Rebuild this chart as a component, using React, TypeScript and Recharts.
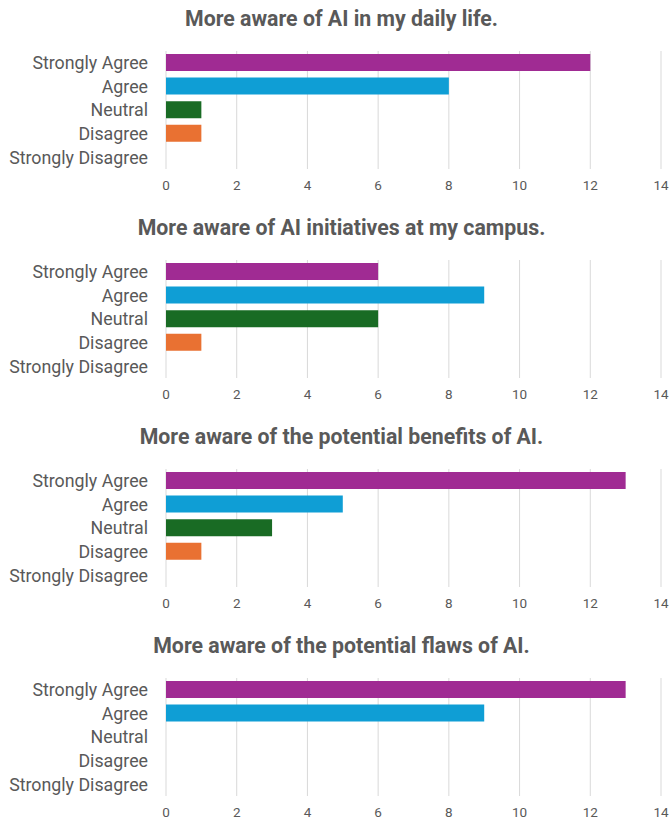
import { BarChart, Bar, XAxis, YAxis, CartesianGrid, Cell } from 'recharts';

const categories = ['Strongly Agree', 'Agree', 'Neutral', 'Disagree', 'Strongly Disagree'];
const colors = ['#A02B93', '#0F9ED5', '#196B24', '#E97132', '#4EA72E'];
const xTicks = [0, 2, 4, 6, 8, 10, 12, 14];

const titles = [
  'More aware of AI in my daily life.',
  'More aware of AI initiatives at my campus.',
  'More aware of the potential benefits of AI.',
  'More aware of the potential flaws of AI.'
];
const dailyLife = [12, 8, 1, 1, 0];
const campus = [6, 9, 6, 1, 0];
const benefits = [13, 5, 3, 1, 0];
const flaws = [13, 9, 0, 0, 0];

const seriesList = [dailyLife, campus, benefits, flaws];

const font = "Roboto, 'Noto Sans', sans-serif";

function Panel({ title, values }: any) {
  const data = categories.map((name, i) => ({ name, value: values[i] }));
  return (
    <div style={{ position: 'relative', width: 669, height: 209 }}>
      <div
        style={{
          position: 'absolute',
          top: 6,
          left: 0,
          width: 669,
          paddingLeft: 14,
          boxSizing: 'border-box',
          textAlign: 'center',
          fontFamily: font,
          fontWeight: 700,
          fontSize: 21.3,
          color: '#595959'
        }}>
        {title}
      </div>
      <BarChart
        width={669}
        height={209}
        data={data}
        layout="vertical"
        margin={{ top: 51, right: 8, left: 0, bottom: 10 }}
        barSize={17}>
        <CartesianGrid horizontal={false} stroke="#d9d9d9" />
        <XAxis
          type="number"
          domain={[0, 14]}
          ticks={xTicks}
          axisLine={false}
          tickLine={false}
          height={30}
          tickMargin={5}
          interval={0}
          tick={{ fill: '#595959', fontSize: 13.5, fontFamily: font }}
        />
        <YAxis
          type="category"
          dataKey="name"
          width={166}
          axisLine={false}
          tickLine={false}
          tickMargin={12}
          interval={0}
          tick={{ fill: '#595959', fontSize: 17.8, fontFamily: font }}
        />
        <Bar dataKey="value" isAnimationActive={false}>
          {data.map((d, i) => (
            <Cell key={d.name} fill={colors[i]} />
          ))}
        </Bar>
      </BarChart>
    </div>
  );
}

export default function App() {
  return (
    <div style={{ position: 'absolute', top: 0, left: 0, width: 669, background: '#fff' }}>
      {titles.map((t, i) => (
        <Panel key={t} title={t} values={seriesList[i]} />
      ))}
    </div>
  );
}
